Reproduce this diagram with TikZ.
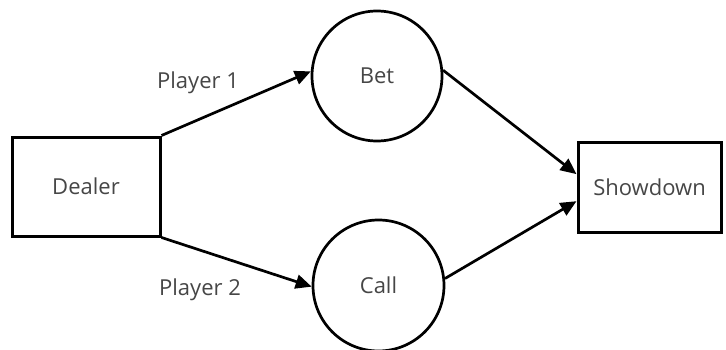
\documentclass[tikz,border=0pt]{standalone}
\usepackage{fontspec}
\setmainfont{Open Sans}
\usepackage{tikz}
\usetikzlibrary{arrows.meta,shapes,positioning}
\usepackage{xcolor}
\definecolor{pkgray}{RGB}{70,70,70}
\tikzstyle{box} = [draw=black, line width=3pt, minimum width=148pt, minimum height=99pt, inner sep=0pt, text=pkgray]
\tikzstyle{state} = [draw=black, circle, line width=2.7pt, minimum size=130pt, inner sep=0pt, text=pkgray]
\tikzstyle{arrow} = [line width=2.7pt, -{Triangle[length=16pt,width=14pt]}, color=black]

\begin{document}
\begin{tikzpicture}[x=1pt, y=1pt, font=\fontsize{22}{26}\selectfont]
\useasboundingbox (0,0) rectangle (726,349);
% Dealer and showdown boxes
\node[box] (dealer) at (86,162.5) {Dealer};
\node[box, minimum width=143pt, minimum height=90pt] (showdown) at (649.5,162) {Showdown};

% Player actions
\node[state] (bet) at (377,273) {Bet};
\node[state, minimum size=131pt] (call) at (378.5,63.5) {Call};

% Connectors
\draw[arrow] (dealer.north east) -- (bet.176);
\draw[arrow] (dealer.south east) -- (call.181);
\draw[arrow] (bet.5) -- (showdown.170.5);
\draw[arrow] (call.6) -- (showdown.191);

% Labels
\node[text=pkgray] (p1) at (198,266) {Player 1};
\node[text=pkgray] (p2) at (200,59) {Player 2};
\end{tikzpicture}
\end{document}
